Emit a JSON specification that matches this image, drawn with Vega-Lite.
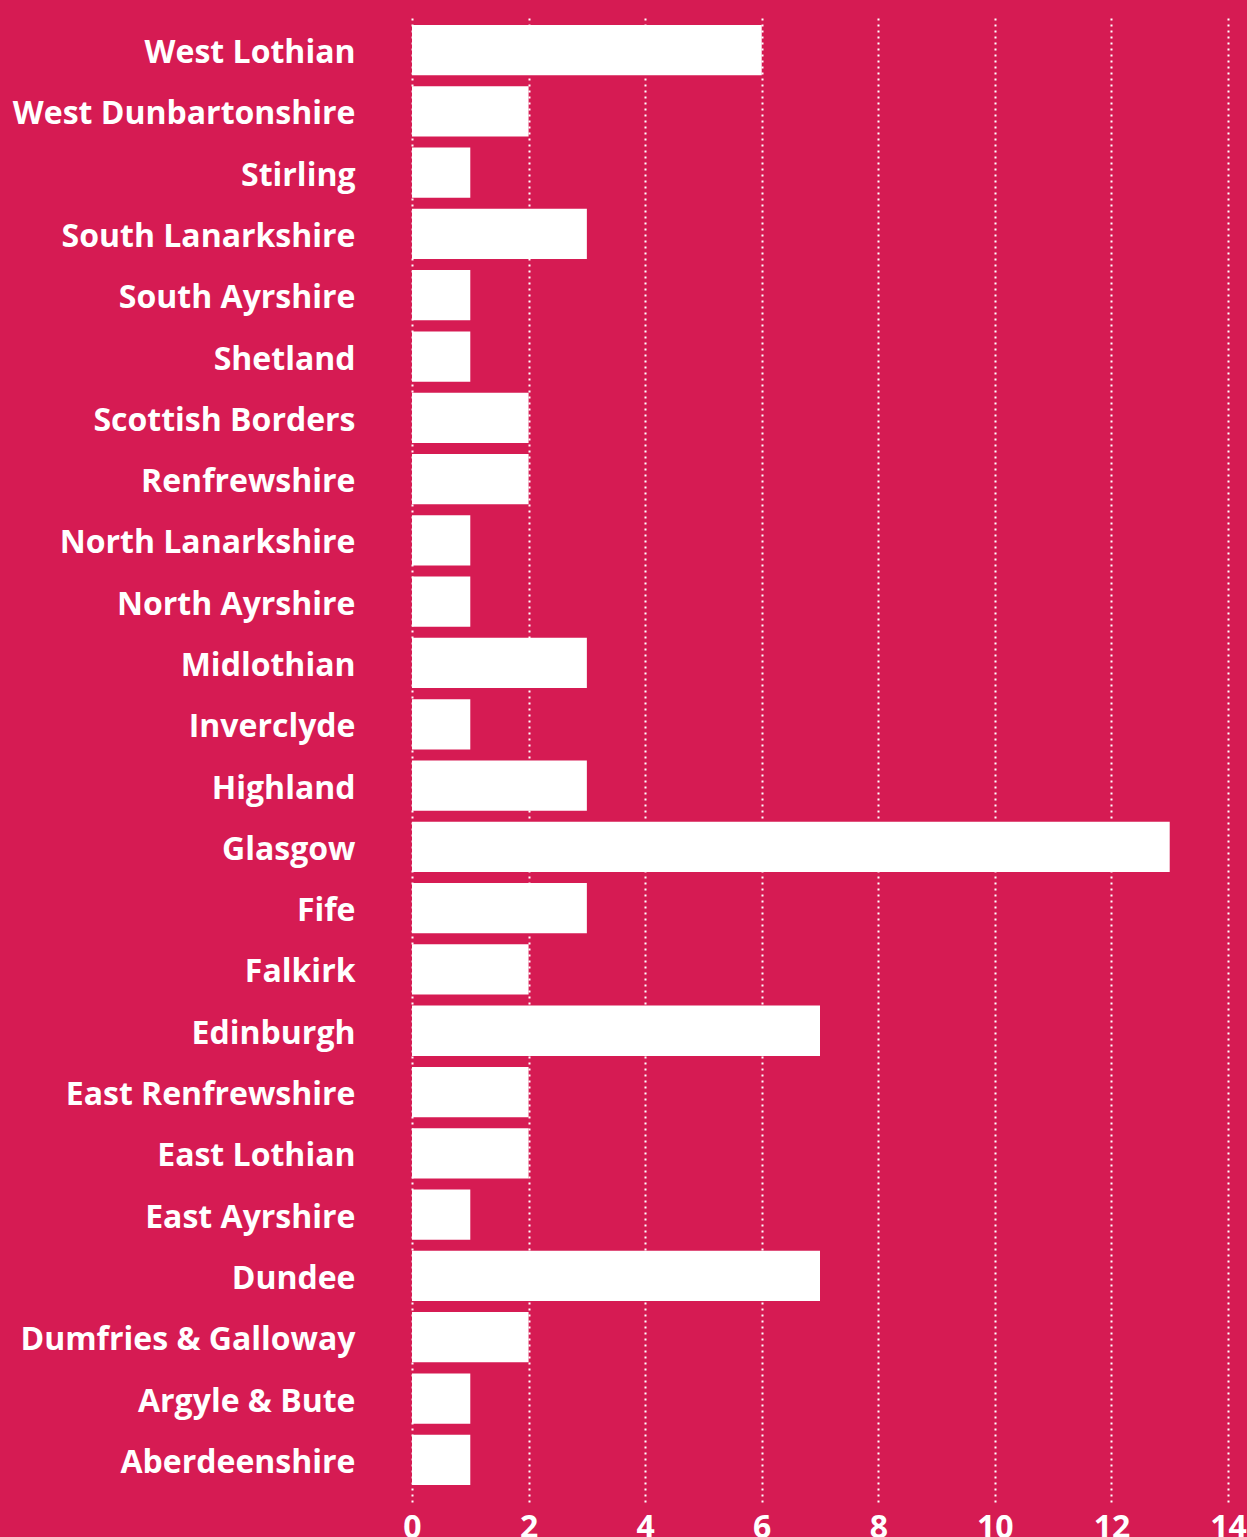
{
  "$schema": "https://vega.github.io/schema/vega-lite/v6.json",
  "autosize": {"type": "none"},
  "padding": {"left": 412, "top": 14, "right": 19, "bottom": 35},
  "width": 816,
  "height": 1488,
  "background": "#D61B53",
  "config": {
    "view": {"stroke": null},
    "font": "Open Sans"
  },
  "data": {
    "values": [
      {"area": "West Lothian", "count": 6},
      {"area": "West Dunbartonshire", "count": 2},
      {"area": "Stirling", "count": 1},
      {"area": "South Lanarkshire", "count": 3},
      {"area": "South Ayrshire", "count": 1},
      {"area": "Shetland", "count": 1},
      {"area": "Scottish Borders", "count": 2},
      {"area": "Renfrewshire", "count": 2},
      {"area": "North Lanarkshire", "count": 1},
      {"area": "North Ayrshire", "count": 1},
      {"area": "Midlothian", "count": 3},
      {"area": "Inverclyde", "count": 1},
      {"area": "Highland", "count": 3},
      {"area": "Glasgow", "count": 13},
      {"area": "Fife", "count": 3},
      {"area": "Falkirk", "count": 2},
      {"area": "Edinburgh", "count": 7},
      {"area": "East Renfrewshire", "count": 2},
      {"area": "East Lothian", "count": 2},
      {"area": "East Ayrshire", "count": 1},
      {"area": "Dundee", "count": 7},
      {"area": "Dumfries & Galloway", "count": 2},
      {"area": "Argyle & Bute", "count": 1},
      {"area": "Aberdeenshire", "count": 1}
    ]
  },
  "mark": {"type": "bar", "color": "#ffffff"},
  "encoding": {
    "y": {
      "field": "area",
      "type": "nominal",
      "sort": null,
      "scale": {"paddingInner": 0.18, "paddingOuter": 0.228, "align": 0.39},
      "axis": {
        "title": null,
        "domain": false,
        "ticks": false,
        "labelColor": "#ffffff",
        "labelFont": "Open Sans",
        "labelFontWeight": "bold",
        "labelFontSize": 32,
        "labelPadding": 57,
        "labelOffset": 3,
        "labelLimit": 500
      }
    },
    "x": {
      "field": "count",
      "type": "quantitative",
      "scale": {"domain": [0, 14], "nice": false},
      "axis": {
        "title": null,
        "domain": false,
        "ticks": false,
        "values": [0, 2, 4, 6, 8, 10, 12, 14],
        "labelColor": "#ffffff",
        "labelFont": "Open Sans",
        "labelFontWeight": "bold",
        "labelFontSize": 32,
        "labelPadding": 10,
        "labelFlush": false,
        "labelOverlap": false,
        "grid": true,
        "gridColor": "#ffffff",
        "gridWidth": 2,
        "gridDash": [2, 4],
        "gridOpacity": 1
      }
    }
  }
}
